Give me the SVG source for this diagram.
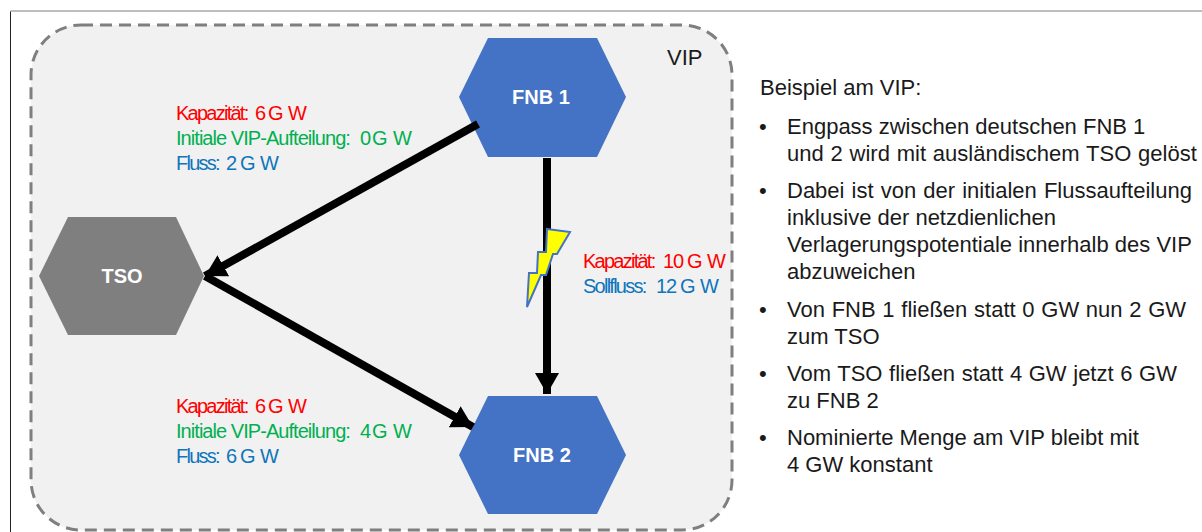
<svg xmlns="http://www.w3.org/2000/svg" width="1202" height="532" viewBox="0 0 1202 532">
<style>
text{font-family:"Liberation Sans",Arial,sans-serif}
.lab{font-size:20px;letter-spacing:-1.2px}
.t{letter-spacing:-1.75px}
.i{letter-spacing:-.95px}
.r{fill:#ff0000}.g{fill:#00b050}.b{fill:#0f75bc}
.body{font-size:22px;fill:#1a1a1a}
.hex{font-size:20px;font-weight:bold;fill:#fff;text-anchor:middle}
.conn{stroke:#000;stroke-width:8;fill:none}
</style>
<defs>
<marker id="arr" markerUnits="userSpaceOnUse" markerWidth="26" markerHeight="26" refX="21" refY="12" orient="auto"><path d="M0 0L21 12L0 24Z" fill="#000"/></marker>
</defs>
<rect width="1202" height="532" fill="#fff"/>
<path d="M10.500 532V11H1202" fill="none" stroke="#7f7f7f" stroke-width="1"/>
<path d="M10.500 532V12" fill="none" stroke="#222" stroke-width="1"/>
<g id="vip">
<rect x="31" y="25" width="701" height="505" rx="50" fill="#f1f1f1" stroke="#7f7f7f" stroke-width="3" stroke-dasharray="12 7"/>
<text x="667" y="65" font-size="22" fill="#1a1a1a">VIP</text>
</g>
<g id="fnb1"><path d="M459 97L488 38H597L626 97L597 157H488Z" fill="#4472c4"/><text class="hex" x="541" y="104">FNB 1</text></g>
<g id="tso"><path d="M39 276L68 217H176L204 276L176 335H68Z" fill="#7f7f7f"/><text class="hex" x="122" y="283">TSO</text></g>
<g id="fnb2"><path d="M459 455L488 396H597L626 455L597 514H488Z" fill="#4472c4"/><text class="hex" x="542" y="462">FNB 2</text></g>
<g id="connectors">
<path class="conn" d="M478 124L205 276" marker-end="url(#arr)"/>
<path class="conn" d="M205 276L473 427" marker-end="url(#arr)"/>
<path class="conn" d="M547 158V394" marker-end="url(#arr)"/>
</g>
<g id="bolt"><path d="M547 229L570 232L557 254L553 254L546 275L541 275L527 307L529 273L537 273L538 252L546 252Z" fill="#ffff00" stroke="#4472c4" stroke-width="2"/></g>
<g id="labels">
<text class="lab r" y="120"><tspan class="t" x="176">Kapazität:</tspan><tspan x="255">6</tspan><tspan x="268">G</tspan><tspan x="288">W</tspan></text>
<text class="lab g" y="145"><tspan class="i" x="176">Initiale VIP-Aufteilung:</tspan><tspan x="360">0</tspan><tspan x="372">G</tspan><tspan x="393">W</tspan></text>
<text class="lab b" y="170"><tspan class="t" x="176">Fluss:</tspan><tspan x="226">2</tspan><tspan x="240">G</tspan><tspan x="260">W</tspan></text>
<text class="lab r" y="413"><tspan class="t" x="176">Kapazität:</tspan><tspan x="255">6</tspan><tspan x="268">G</tspan><tspan x="288">W</tspan></text>
<text class="lab g" y="438"><tspan class="i" x="176">Initiale VIP-Aufteilung:</tspan><tspan x="360">4</tspan><tspan x="372">G</tspan><tspan x="393">W</tspan></text>
<text class="lab b" y="463"><tspan class="t" x="176">Fluss:</tspan><tspan x="226">6</tspan><tspan x="240">G</tspan><tspan x="260">W</tspan></text>
<text class="lab r" y="268"><tspan class="t" x="583">Kapazität:</tspan><tspan x="663">10</tspan><tspan x="687">G</tspan><tspan x="707">W</tspan></text>
<text class="lab b" y="293"><tspan class="t" x="583">Sollfluss:</tspan><tspan x="656">12</tspan><tspan x="680">G</tspan><tspan x="700">W</tspan></text>
</g>
<g id="text">
<text class="body" x="760" y="95">Beispiel am VIP:</text>
<text class="body" x="759" y="134">•</text><text class="body" x="787" y="134">Engpass zwischen deutschen FNB 1</text>
<text class="body" x="787" y="161" word-spacing=".7">und 2 wird mit ausländischem TSO gelöst</text>
<text class="body" x="759" y="198">•</text><text class="body" x="787" y="198" word-spacing="1">Dabei ist von der initialen Flussaufteilung</text>
<text class="body" x="787" y="225">inklusive der netzdienlichen</text>
<text class="body" x="787" y="252">Verlagerungspotentiale innerhalb des VIP</text>
<text class="body" x="787" y="279">abzuweichen</text>
<text class="body" x="759" y="317">•</text><text class="body" x="787" y="317" word-spacing=".6">Von FNB 1 fließen statt 0 GW nun 2 GW</text>
<text class="body" x="787" y="344">zum TSO</text>
<text class="body" x="759" y="381">•</text><text class="body" x="787" y="381" word-spacing=".5">Vom TSO fließen statt 4 GW jetzt 6 GW</text>
<text class="body" x="787" y="408">zu FNB 2</text>
<text class="body" x="759" y="445">•</text><text class="body" x="787" y="445">Nominierte Menge am VIP bleibt mit</text>
<text class="body" x="787" y="472">4 GW konstant</text>
</g>
</svg>
